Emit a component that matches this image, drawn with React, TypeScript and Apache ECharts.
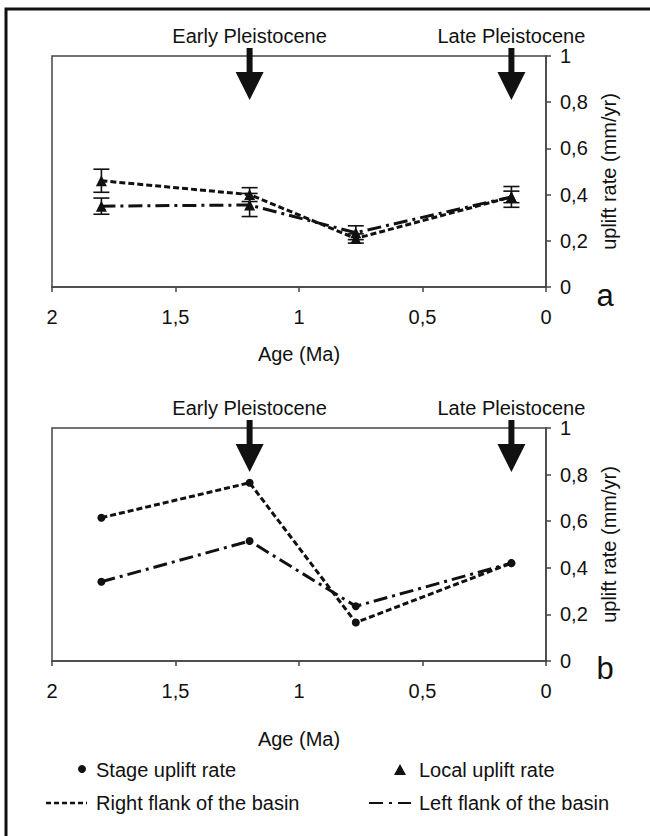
import React, { useEffect, useRef } from "react";
import * as echarts from "echarts";

// ---- data ----
const ages = [1.8, 1.2, 0.77, 0.14];
// panel a: local uplift rate (triangles) with error bars
const localRight = [0.46, 0.4, 0.21, 0.39];
const localRightErr = [0.05, 0.03, 0.02, 0.025];
const localLeft = [0.35, 0.355, 0.235, 0.39];
const localLeftErr = [0.035, 0.05, 0.03, 0.045];
// panel b: stage uplift rate (circles)
const stageRight = [0.615, 0.765, 0.165, 0.42];
const stageLeft = [0.34, 0.515, 0.235, 0.42];
// period arrows
const periodAges = [1.2, 0.14];
const periodLabels = ["Early Pleistocene", "Late Pleistocene"];
// axes
const xMin = 0, xMax = 2, xStep = 0.5;
const yMin = 0, yMax = 1, yStep = 0.2;
const xName = "Age (Ma)";
const yName = "uplift rate (mm/yr)";
const panelLabels = ["a", "b"];
const legendLabels = ["Stage uplift rate", "Local uplift rate", "Right flank of the basin", "Left flank of the basin"];

const FONT = "'Liberation Sans', Arial, sans-serif";
const FS = 20;
const INK = "#111";
const AXIS = "#444";
const DASH = [6, 3];
const DASHDOT = [14, 5, 3, 5];

const fmt = (v: number) => String(Math.round(v * 10) / 10).replace(".", ",");

export default function App() {
  const ref = useRef<HTMLDivElement>(null);
  useEffect(() => {
    if (!ref.current) return;
    const chart = echarts.init(ref.current, undefined, { renderer: "svg" });

    const grids = [
      { left: 52, top: 56, width: 494, height: 231 },
      { left: 52, top: 428, width: 494, height: 233 },
    ];
    const nameGaps = [57, 68];

    const xAxes = grids.map((_, i) => ({
      type: "value",
      gridIndex: i,
      min: xMin,
      max: xMax,
      interval: xStep,
      inverse: true,
      splitLine: { show: false },
      axisLine: { show: true, lineStyle: { color: AXIS, width: 1.5 } },
      axisTick: { show: true, length: 5, lineStyle: { color: AXIS, width: 1.5 } },
      axisLabel: { margin: 20, fontSize: FS, color: INK, fontFamily: FONT, formatter: fmt },
      name: xName,
      nameLocation: "middle",
      nameGap: nameGaps[i],
      nameTextStyle: { fontSize: FS, color: INK, fontFamily: FONT },
    }));

    const yAxes = grids.map((_, i) => ({
      type: "value",
      gridIndex: i,
      position: "right",
      min: yMin,
      max: yMax,
      interval: yStep,
      splitLine: { show: false },
      axisLine: { show: true, lineStyle: { color: AXIS, width: 1.5 } },
      axisTick: { show: true, length: 5, lineStyle: { color: AXIS, width: 1.5 } },
      axisLabel: { margin: 14, fontSize: FS, color: INK, fontFamily: FONT, formatter: fmt },
      name: yName,
      nameLocation: "middle",
      nameRotate: 90,
      nameGap: 50,
      nameTextStyle: { fontSize: FS, color: INK, fontFamily: FONT },
    }));

    const lineSeries = (idx: number, vals: number[], symbol: string, size: number, dash: number[]) => ({
      type: "line",
      xAxisIndex: idx,
      yAxisIndex: idx,
      data: ages.map((a, i) => [a, vals[i]]),
      symbol,
      symbolSize: size,
      itemStyle: { color: INK },
      lineStyle: { color: INK, width: 3, type: dash },
      z: 3,
    });

    const errSeries = (vals: number[], errs: number[]) => ({
      type: "custom",
      xAxisIndex: 0,
      yAxisIndex: 0,
      data: ages.map((a, i) => [a, vals[i] - errs[i], vals[i] + errs[i]]),
      renderItem: (params: any, api: any) => {
        const x = api.value(0);
        const lo = api.coord([x, api.value(1)]);
        const hi = api.coord([x, api.value(2)]);
        const w = 8;
        const st = { stroke: INK, lineWidth: 1.6 };
        return {
          type: "group",
          children: [
            { type: "line", shape: { x1: lo[0], y1: lo[1], x2: hi[0], y2: hi[1] }, style: st },
            { type: "line", shape: { x1: lo[0] - w, y1: lo[1], x2: lo[0] + w, y2: lo[1] }, style: st },
            { type: "line", shape: { x1: hi[0] - w, y1: hi[1], x2: hi[0] + w, y2: hi[1] }, style: st },
          ],
        };
      },
      z: 4,
    });

    const arrowSeries = (idx: number) => ({
      type: "custom",
      xAxisIndex: idx,
      yAxisIndex: idx,
      clip: false,
      data: periodAges.map((a) => [a, yMax]),
      renderItem: (params: any, api: any) => {
        const p = api.coord([api.value(0), api.value(1)]);
        return {
          type: "group",
          children: [
            {
              type: "text",
              x: p[0],
              y: p[1] - 20,
              style: {
                text: periodLabels[params.dataIndex],
                align: "center",
                verticalAlign: "middle",
                fontSize: FS,
                fontFamily: FONT,
                fill: INK,
              },
            },
            { type: "rect", shape: { x: p[0] - 3, y: p[1] - 8, width: 6, height: 26 }, style: { fill: INK } },
            {
              type: "polygon",
              shape: { points: [[p[0] - 14, p[1] + 16], [p[0] + 14, p[1] + 16], [p[0], p[1] + 44]] },
              style: { fill: INK },
            },
          ],
        };
      },
      z: 5,
    });

    const txt = (x: number, y: number, text: string, size = FS, align = "left") => ({
      type: "text",
      x,
      y,
      style: { text, fontSize: size, fontFamily: FONT, fill: INK, align, verticalAlign: "middle" },
    });

    const option: any = {
      animation: false,
      backgroundColor: "#fff",
      grid: grids.map((g) => ({ ...g, show: true, borderColor: AXIS, borderWidth: 1.5, backgroundColor: "transparent" })),
      xAxis: xAxes,
      yAxis: yAxes,
      series: [
        lineSeries(0, localRight, "triangle", 11, DASH),
        lineSeries(0, localLeft, "triangle", 11, DASHDOT),
        errSeries(localRight, localRightErr),
        errSeries(localLeft, localLeftErr),
        lineSeries(1, stageRight, "circle", 8, DASH),
        lineSeries(1, stageLeft, "circle", 8, DASHDOT),
        arrowSeries(0),
        arrowSeries(1),
      ],
      graphic: [
        { type: "polyline", shape: { points: [[6, 840], [6, 9], [655, 9]] }, style: { stroke: INK, lineWidth: 3, fill: null } },
        txt(605, 295, panelLabels[0], 31, "center"),
        txt(605, 668, panelLabels[1], 31, "center"),
        { type: "circle", shape: { cx: 82, cy: 769, r: 4 }, style: { fill: INK } },
        txt(96, 770, legendLabels[0]),
        { type: "polygon", shape: { points: [[394, 775], [406, 775], [400, 764]] }, style: { fill: INK } },
        txt(419, 770, legendLabels[1]),
        { type: "line", shape: { x1: 46, y1: 803, x2: 87, y2: 803 }, style: { stroke: INK, lineWidth: 2.5, lineDash: [5, 3] } },
        txt(96, 803, legendLabels[2]),
        { type: "line", shape: { x1: 369, y1: 803, x2: 411, y2: 803 }, style: { stroke: INK, lineWidth: 2, lineDash: [14, 6, 3, 6] } },
        txt(419, 803, legendLabels[3]),
      ],
    };
    chart.setOption(option);
    return () => chart.dispose();
  }, []);
  return <div ref={ref} style={{ position: "fixed", left: 0, top: 0, width: 650, height: 836, background: "#fff" }} />;
}
